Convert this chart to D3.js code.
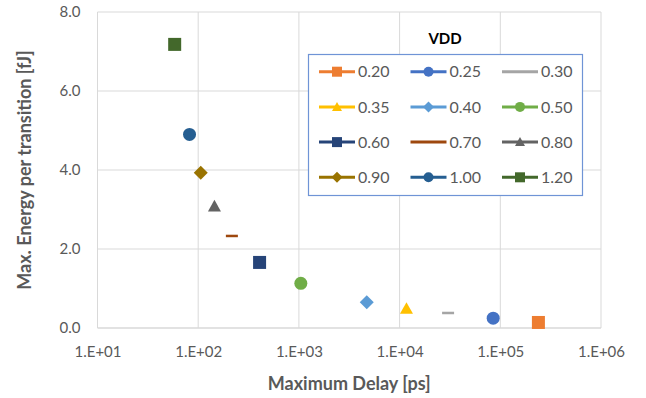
<!DOCTYPE html>
<html>
<head>
<meta charset="utf-8">
<script src="https://cdn.jsdelivr.net/npm/d3@7"></script>
<style>
  html, body { margin: 0; padding: 0; background: #fff; }
  svg { display: block; font-family: Lato, "Open Sans", sans-serif; }
</style>
</head>
<body>
<svg id="chart" width="646" height="398"></svg>
<script>
(function (d3) {
  "use strict";

  /***** Données *****/
  var vddLabels = ["0.20", "0.25", "0.30", "0.35", "0.40", "0.50", "0.60", "0.70", "0.80", "0.90", "1.00", "1.20"];
  var maxDelay = [239000, 85000, 30300, 11700, 4720, 1045, 407, 216, 145, 106, 82, 58.4];   // ps
  var maxEnergy = [0.14, 0.25, 0.38, 0.49, 0.65, 1.13, 1.66, 2.33, 3.08, 3.93, 4.90, 7.18]; // fJ
  var seriesColors = ["#ED7D31", "#4472C4", "#A5A5A5", "#FFC000", "#5B9BD5", "#70AD47",
                      "#264478", "#9E480E", "#636363", "#997300", "#255E91", "#43682B"];
  var seriesShapes = ["square", "circle", "dash", "triangle", "diamond", "circle",
                      "square", "dash", "triangle", "diamond", "circle", "square"];
  var xTicks = [1e1, 1e2, 1e3, 1e4, 1e5, 1e6];
  var yTicks = [0, 2, 4, 6, 8];

  var series = vddLabels.map(function (label, i) {
    return { label: label, delay: maxDelay[i], energy: maxEnergy[i], color: seriesColors[i], shape: seriesShapes[i] };
  });

  /***** Configuration *****/
  var margin = { top: 12, right: 45, bottom: 70, left: 97.5 };
  var width = 646 - margin.left - margin.right;
  var height = 398 - margin.top - margin.bottom;
  var textColor = "#595959";
  var gridColor = "#d9d9d9";

  var x = d3.scaleLog().domain([1e1, 1e6]).range([0, width]);
  var y = d3.scaleLinear().domain([0, 8]).range([height, 0]);

  var svg = d3.select("#chart");
  var g = svg.append("g")
    .attr("transform", "translate(" + margin.left + "," + margin.top + ")");

  /***** Grille *****/
  g.append("g").selectAll("line.h")
    .data(yTicks)
    .enter()
    .append("line")
    .attr("x1", 0).attr("x2", width)
    .attr("y1", function (d) { return y(d); })
    .attr("y2", function (d) { return y(d); })
    .attr("stroke", gridColor)
    .attr("stroke-width", function (d) { return d === 0 ? 1.5 : 1; });

  g.append("g").selectAll("line.v")
    .data(xTicks)
    .enter()
    .append("line")
    .attr("y1", 0).attr("y2", height)
    .attr("x1", function (d) { return x(d); })
    .attr("x2", function (d) { return x(d); })
    .attr("stroke", gridColor)
    .attr("stroke-width", 1);

  /***** Axes *****/
  var xAxis = d3.axisBottom(x).tickValues(xTicks).tickSize(0).tickPadding(18)
    .tickFormat(function (d) { return "1.E+" + String(Math.round(Math.log10(d))).padStart(2, "0"); });
  var yAxis = d3.axisLeft(y).tickValues(yTicks).tickSize(0).tickPadding(17)
    .tickFormat(d3.format(".1f"));

  var xg = g.append("g").attr("transform", "translate(0," + height + ")").call(xAxis);
  var yg = g.append("g").call(yAxis);
  [xg, yg].forEach(function (ax) {
    ax.select(".domain").remove();
    ax.selectAll("text").attr("fill", textColor).style("font-size", "15px")
      .style("font-family", "Lato, 'Open Sans', sans-serif");
  });

  svg.append("text")
    .attr("x", margin.left + width / 2)
    .attr("y", 390)
    .attr("text-anchor", "middle")
    .attr("fill", textColor)
    .style("font-size", "18px")
    .style("font-weight", "bold")
    .text("Maximum Delay [ps]");

  svg.append("text")
    .attr("transform", "translate(31," + (margin.top + height / 2) + ") rotate(-90)")
    .attr("text-anchor", "middle")
    .attr("fill", textColor)
    .style("font-size", "18px")
    .style("font-weight", "bold")
    .text("Max. Energy per transition [fJ]");

  /***** Marqueurs *****/
  function drawMarker(sel, shape, color, s) {
    if (shape === "square") {
      sel.append("rect").attr("x", -s / 2).attr("y", -s / 2).attr("width", s).attr("height", s).attr("fill", color);
    } else if (shape === "circle") {
      sel.append("circle").attr("r", s / 2).attr("fill", color);
    } else if (shape === "diamond") {
      var h = s / 2;
      sel.append("path").attr("d", "M0," + (-h) + "L" + h + ",0L0," + h + "L" + (-h) + ",0Z").attr("fill", color);
    } else if (shape === "triangle") {
      var t = s / 2;
      sel.append("path").attr("d", "M0," + (-t) + "L" + t + "," + (t * 0.8) + "L" + (-t) + "," + (t * 0.8) + "Z").attr("fill", color);
    } else if (shape === "dash") {
      sel.append("rect").attr("x", -s / 2).attr("y", -1.25).attr("width", s).attr("height", 2.5).attr("fill", color);
    }
  }

  var pts = g.append("g").selectAll("g.pt")
    .data(series)
    .enter()
    .append("g")
    .attr("transform", function (d) { return "translate(" + x(d.delay) + "," + y(d.energy) + ")"; });
  pts.each(function (d) {
    var size = d.shape === "diamond" ? 14 : (d.shape === "dash" ? 12 : 13);
    drawMarker(d3.select(this), d.shape, d.color, size);
  });

  /***** Légende *****/
  svg.append("text")
    .attr("x", 445)
    .attr("y", 44)
    .attr("text-anchor", "middle")
    .attr("fill", "#000")
    .style("font-size", "15px")
    .style("font-weight", "bold")
    .text("VDD");

  svg.append("rect")
    .attr("x", 308.5).attr("y", 54.5)
    .attr("width", 274).attr("height", 141)
    .attr("fill", "#fff")
    .attr("stroke", "#6f94d6")
    .attr("stroke-width", 1.2);

  var items = svg.append("g").selectAll("g.item")
    .data(series)
    .enter()
    .append("g")
    .attr("transform", function (d, i) {
      return "translate(" + (319 + (i % 3) * 91.5) + "," + (71.7 + Math.floor(i / 3) * 35.2) + ")";
    });
  items.append("line")
    .attr("x1", 0).attr("x2", 36)
    .attr("stroke", function (d) { return d.color; })
    .attr("stroke-width", 3);
  items.each(function (d) {
    if (d.shape === "dash") return;
    var m = d3.select(this).append("g").attr("transform", "translate(18,0)");
    drawMarker(m, d.shape, d.color, d.shape === "diamond" ? 11 : 10);
  });
  items.append("text")
    .attr("x", 39)
    .attr("dy", "0.36em")
    .attr("fill", textColor)
    .style("font-size", "16px")
    .text(function (d) { return d.label; });

})(d3);
</script>
</body>
</html>
